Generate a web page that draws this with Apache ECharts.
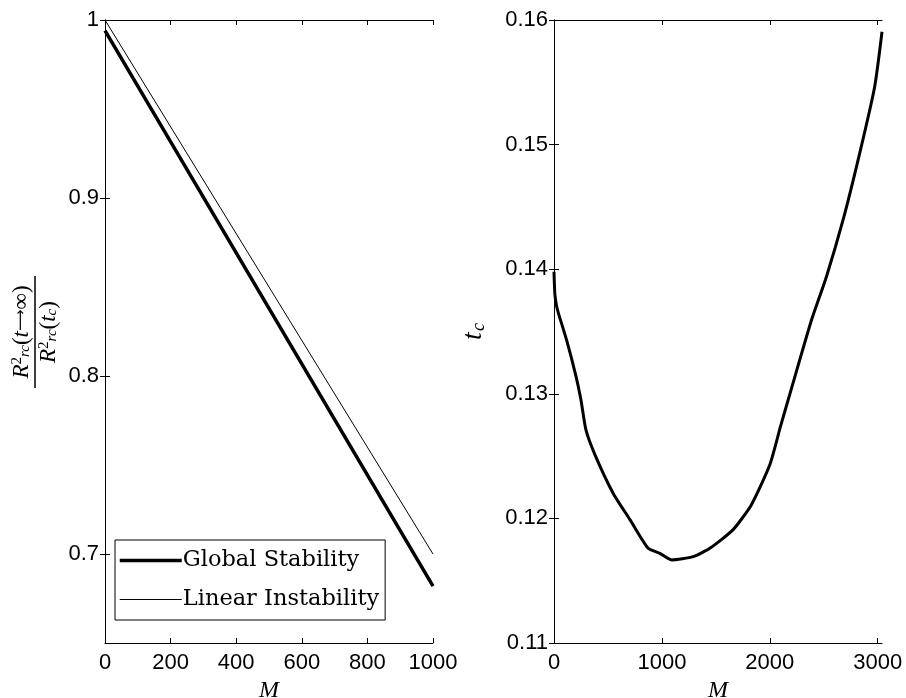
<!DOCTYPE html>
<html>
<head>
<meta charset="utf-8">
<script src="https://cdn.jsdelivr.net/npm/echarts@6/dist/echarts.min.js"></script>
<style>
html,body{margin:0;padding:0;background:#fff;}
#chart{width:906px;height:698px;}
</style>
</head>
<body>
<div id="chart"></div>
<script>
// ---- data ----
var leftM = [0, 500, 1000];
var globalStability = [0.994, 0.838, 0.682];
var linearInstability = [1.0, 0.850, 0.700];
var leftXTicks = [0, 200, 400, 600, 800, 1000];
var leftYTicks = [0.7, 0.8, 0.9, 1];

var rightM = [0, 8, 25, 40, 117, 204, 250, 296, 380, 549, 704, 873, 981, 1090, 1290, 1444, 1660, 1830, 2000, 2100, 2200, 2386, 2525, 2679, 2833, 2972, 3040];
var tc = [0.1398, 0.1380, 0.1370, 0.1365, 0.1343, 0.1314, 0.1295, 0.1271, 0.1251, 0.1220, 0.1199, 0.1176, 0.1172, 0.11667, 0.11693, 0.1176, 0.1191, 0.1211, 0.1243, 0.1274, 0.1304, 0.1359, 0.1394, 0.14395, 0.1493, 0.15465, 0.15906];
var rightXTicks = [0, 1000, 2000, 3000];

function zip(a, b) { return a.map(function (v, i) { return [v, b[i]]; }); }

var tickFont = { color: '#000', fontSize: 22, fontFamily: 'Liberation Sans' };
var axisLineStyle = { show: true, lineStyle: { color: '#000', width: 1 } };
var tickStyle = { inside: true, length: 5, lineStyle: { color: '#000', width: 1 } };
var mName = { fontFamily: 'Liberation Serif', fontStyle: 'italic', fontSize: 24, color: '#000' };
var plain = function (v) { return String(+(+v).toFixed(3)); };

function mirrorX(grid, min, max, ticks, pos) {
  return { type: 'value', gridIndex: grid, position: pos, min: min, max: max,
    axisLine: axisLineStyle, axisTick: Object.assign({ customValues: ticks }, tickStyle),
    axisLabel: { show: false, customValues: ticks }, splitLine: { show: false } };
}
function mirrorY(grid, min, max, opts, pos) {
  var o = { type: 'value', gridIndex: grid, position: pos, min: min, max: max,
    axisLine: axisLineStyle, axisTick: Object.assign({}, tickStyle),
    axisLabel: { show: false }, splitLine: { show: false } };
  if (opts.ticks) { o.axisTick.customValues = opts.ticks; o.axisLabel.customValues = opts.ticks; }
  if (opts.interval) o.interval = opts.interval;
  return o;
}

var serifI = { fontFamily: 'Liberation Serif', fontStyle: 'italic', fontSize: 23, fill: '#000' };
var serifN = { fontFamily: 'Liberation Serif', fontSize: 23, fill: '#000' };
var supS = { fontFamily: 'Liberation Serif', fontSize: 15, fill: '#000', verticalAlign: 'top' };
var subS = { fontFamily: 'Liberation Serif', fontStyle: 'italic', fontSize: 15, fill: '#000', verticalAlign: 'bottom' };

var chart = echarts.init(document.getElementById('chart'), null, { renderer: 'canvas' });
chart.setOption({
  backgroundColor: '#fff',
  animation: false,
  grid: [
    { left: 105, top: 20, width: 328, height: 623, outerBoundsMode: 'none', containLabel: false },
    { left: 554, top: 20, width: 328, height: 623, outerBoundsMode: 'none', containLabel: false }
  ],
  xAxis: [
    { type: 'value', gridIndex: 0, position: 'bottom', min: 0, max: 1000,
      axisLine: axisLineStyle, axisTick: Object.assign({ customValues: leftXTicks }, tickStyle),
      axisLabel: Object.assign({ customValues: leftXTicks, margin: 9, formatter: plain }, tickFont),
      splitLine: { show: false },
      name: 'M', nameLocation: 'middle', nameGap: 34, nameTextStyle: mName },
    mirrorX(0, 0, 1000, leftXTicks, 'top'),
    { type: 'value', gridIndex: 1, position: 'bottom', min: 0, max: 3040,
      axisLine: axisLineStyle, axisTick: Object.assign({ customValues: rightXTicks }, tickStyle),
      axisLabel: Object.assign({ customValues: rightXTicks, margin: 9, formatter: plain }, tickFont),
      splitLine: { show: false },
      name: 'M', nameLocation: 'middle', nameGap: 34, nameTextStyle: mName },
    mirrorX(1, 0, 3040, rightXTicks, 'top')
  ],
  yAxis: [
    { type: 'value', gridIndex: 0, position: 'left', min: 0.65, max: 1,
      axisLine: axisLineStyle, axisTick: Object.assign({ customValues: leftYTicks }, tickStyle),
      axisLabel: Object.assign({ customValues: leftYTicks, margin: 6, formatter: plain }, tickFont),
      splitLine: { show: false } },
    mirrorY(0, 0.65, 1, { ticks: leftYTicks }, 'right'),
    { type: 'value', gridIndex: 1, position: 'left', min: 0.11, max: 0.16, interval: 0.01,
      axisLine: axisLineStyle, axisTick: tickStyle,
      axisLabel: Object.assign({ margin: 6, formatter: function (v) { return v.toFixed(2); } }, tickFont),
      splitLine: { show: false },
      name: '{t|t}{c|c}', nameLocation: 'middle', nameGap: 66, nameRotate: 90,
      nameTextStyle: { rich: {
        t: { fontFamily: 'Liberation Serif', fontStyle: 'italic', fontSize: 28, color: '#000', verticalAlign: 'bottom' },
        c: { fontFamily: 'Liberation Serif', fontStyle: 'italic', fontSize: 18, color: '#000', verticalAlign: 'bottom', padding: [0, 0, 0, 1] }
      } } },
    mirrorY(1, 0.11, 0.16, { interval: 0.01 }, 'right')
  ],
  legend: {
    orient: 'vertical', left: 115, top: 540,
    data: [
      { name: 'Global Stability', lineStyle: { width: 3.5 }, itemStyle: { opacity: 0 } },
      { name: 'Linear Instability', lineStyle: { width: 1 }, itemStyle: { opacity: 0 } }
    ],
    itemWidth: 62, itemHeight: 14, itemGap: 16,
    padding: [9, 6, 9, 3],
    backgroundColor: '#fff', borderColor: '#000', borderWidth: 1, borderRadius: 0,
    textStyle: { fontFamily: 'DejaVu Serif', fontSize: 22.5, color: '#000', padding: [0, 0, 0, -4] }
  },
  graphic: [{
    type: 'group', x: 35, y: 332, rotation: Math.PI / 2,
    children: [
      { type: 'line', shape: { x1: -56, y1: 0, x2: 56, y2: 0 }, style: { stroke: '#000', lineWidth: 1.5 } },
      { type: 'text', x: 0, y: -2, style: {
        text: '{i|R}{sp|2}{sb|rc}{n|(}{i|t}{a|⟶}{n|∞)}',
        align: 'center', verticalAlign: 'bottom',
        rich: { i: serifI, n: serifN, sp: supS, sb: subS,
          a: { fontFamily: 'DejaVu Sans', fontSize: 15, fill: '#000' } } } },
      { type: 'text', x: 0, y: 2, style: {
        text: '{i|R}{sp|2}{sb|rc}{n|(}{i|t}{sb|c}{n|)}',
        align: 'center', verticalAlign: 'top',
        rich: { i: serifI, n: serifN, sp: supS, sb: subS } } }
    ]
  }],
  series: [
    { name: 'Global Stability', type: 'line', xAxisIndex: 0, yAxisIndex: 0, data: zip(leftM, globalStability),
      symbol: 'none', lineStyle: { color: '#000', width: 3.5 }, itemStyle: { color: '#000' } },
    { name: 'Linear Instability', type: 'line', xAxisIndex: 0, yAxisIndex: 0, data: zip(leftM, linearInstability),
      symbol: 'none', lineStyle: { color: '#000', width: 1 }, itemStyle: { color: '#000' } },
    { name: 'tc', type: 'line', xAxisIndex: 2, yAxisIndex: 2, data: zip(rightM, tc),
      symbol: 'none', smooth: 0.2, lineStyle: { color: '#000', width: 3 }, itemStyle: { color: '#000' } }
  ]
});
</script>
</body>
</html>
